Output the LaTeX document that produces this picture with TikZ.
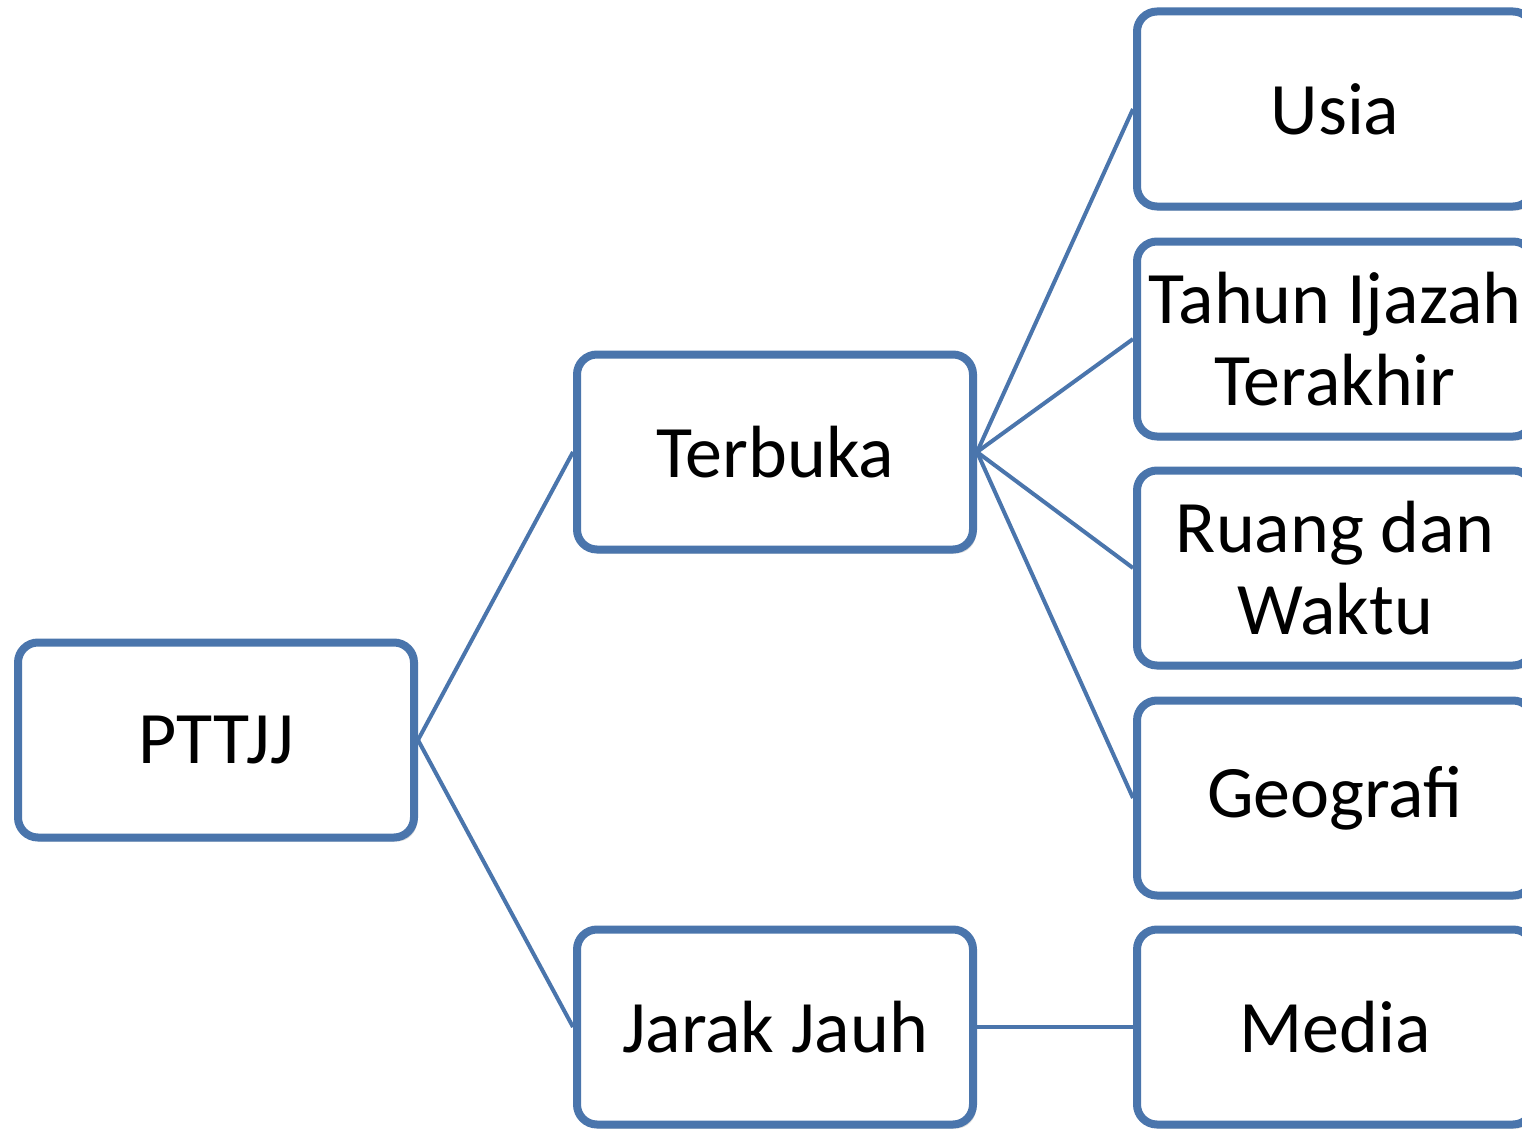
\documentclass[tikz,border=0pt]{standalone}
\usepackage{fontspec}
\setmainfont{Carlito}
\usetikzlibrary{shadows}
\definecolor{boxblue}{HTML}{4A75AC}
\tikzset{
  box/.style={draw=boxblue, line width=8pt, fill=white, rounded corners=20pt,
    minimum width=396pt, minimum height=195pt, inner sep=0pt, align=center,
    font=\fontsize{74}{82}\selectfont,
    drop shadow={shadow xshift=3pt, shadow yshift=-4pt, opacity=0.25, fill=black!60}},
  link/.style={draw=boxblue, line width=4pt}
}
\begin{document}
\begin{tikzpicture}[x=1pt,y=-1pt]
\useasboundingbox (0,0) rectangle (1522,1129);
\clip (0,0) rectangle (1522,1129);
\fill[white] (0,0) rectangle (1522,1129);
\node[box] (root) at (216,740) {PTTJJ};
\node[box] (terbuka) at (775,452) {Terbuka};
\node[box] (jarak) at (775,1027) {Jarak Jauh};
\node[box] (usia) at (1335,109) {Usia};
\node[box] (tahun) at (1335,339) {Tahun Ijazah\\Terakhir};
\node[box] (ruang) at (1335,568) {Ruang dan\\Waktu};
\node[box] (geo) at (1335,798) {Geografi};
\node[box] (media) at (1335,1027) {Media};
\draw[link] (root.east) -- (terbuka.west);
\draw[link] (root.east) -- (jarak.west);
\draw[link] (terbuka.east) -- (usia.west);
\draw[link] (terbuka.east) -- (tahun.west);
\draw[link] (terbuka.east) -- (ruang.west);
\draw[link] (terbuka.east) -- (geo.west);
\draw[link] (jarak.east) -- (media.west);
\end{tikzpicture}
\end{document}
